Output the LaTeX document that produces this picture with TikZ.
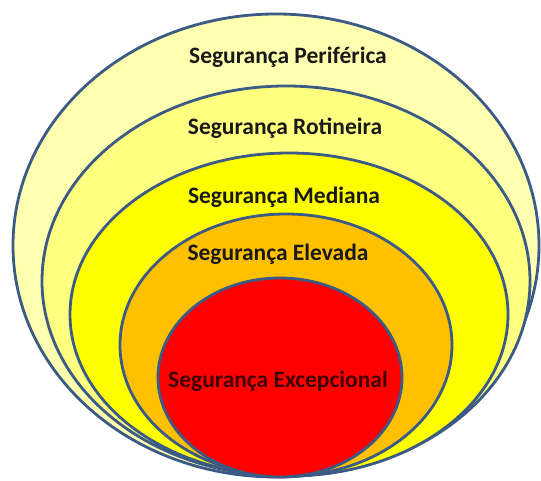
\documentclass[tikz,border=0pt]{standalone}
\usepackage{fontspec}
\setmainfont{Carlito}
\definecolor{rim}{HTML}{3B5A85}
\definecolor{lvA}{HTML}{FFFFB0}
\definecolor{lvB}{HTML}{FFFF80}
\definecolor{lvC}{HTML}{FFFF00}
\definecolor{lvD}{HTML}{FFC000}
\definecolor{lvE}{HTML}{FF0000}
\tikzset{
  ring/.style={draw=rim, line width=2.8pt},
  lab/.style={font=\fontsize{23.5}{26}\selectfont\bfseries, text=black!90, inner sep=0pt}
}
\begin{document}
\begin{tikzpicture}[x=1pt,y=-1pt]
\useasboundingbox (0,0) rectangle (541,481);
\fill[white] (0,0) rectangle (541,481);
\draw[ring, fill=lvA] (276,245.5) ellipse [x radius=263, y radius=231.5];
\draw[ring, fill=lvB] (286,281) ellipse [x radius=244, y radius=195];
\draw[ring, fill=lvC] (289,314.5) ellipse [x radius=219, y radius=161.5];
\draw[ring, fill=lvD] (286,345) ellipse [x radius=166, y radius=131];
\draw[ring, fill=lvE] (280,377.5) ellipse [x radius=122, y radius=99.5];
\node[lab] (p) at (288,57) {Segurança Periférica};
\node[lab] (r) at (285,128) {Segurança Rotineira};
\node[lab] (m) at (284,197) {Segurança Mediana};
\node[lab] (e) at (278,254) {Segurança Elevada};
\node[lab, text=black!75!red] (x) at (278,381) {Segurança Excepcional};
\end{tikzpicture}
\end{document}
